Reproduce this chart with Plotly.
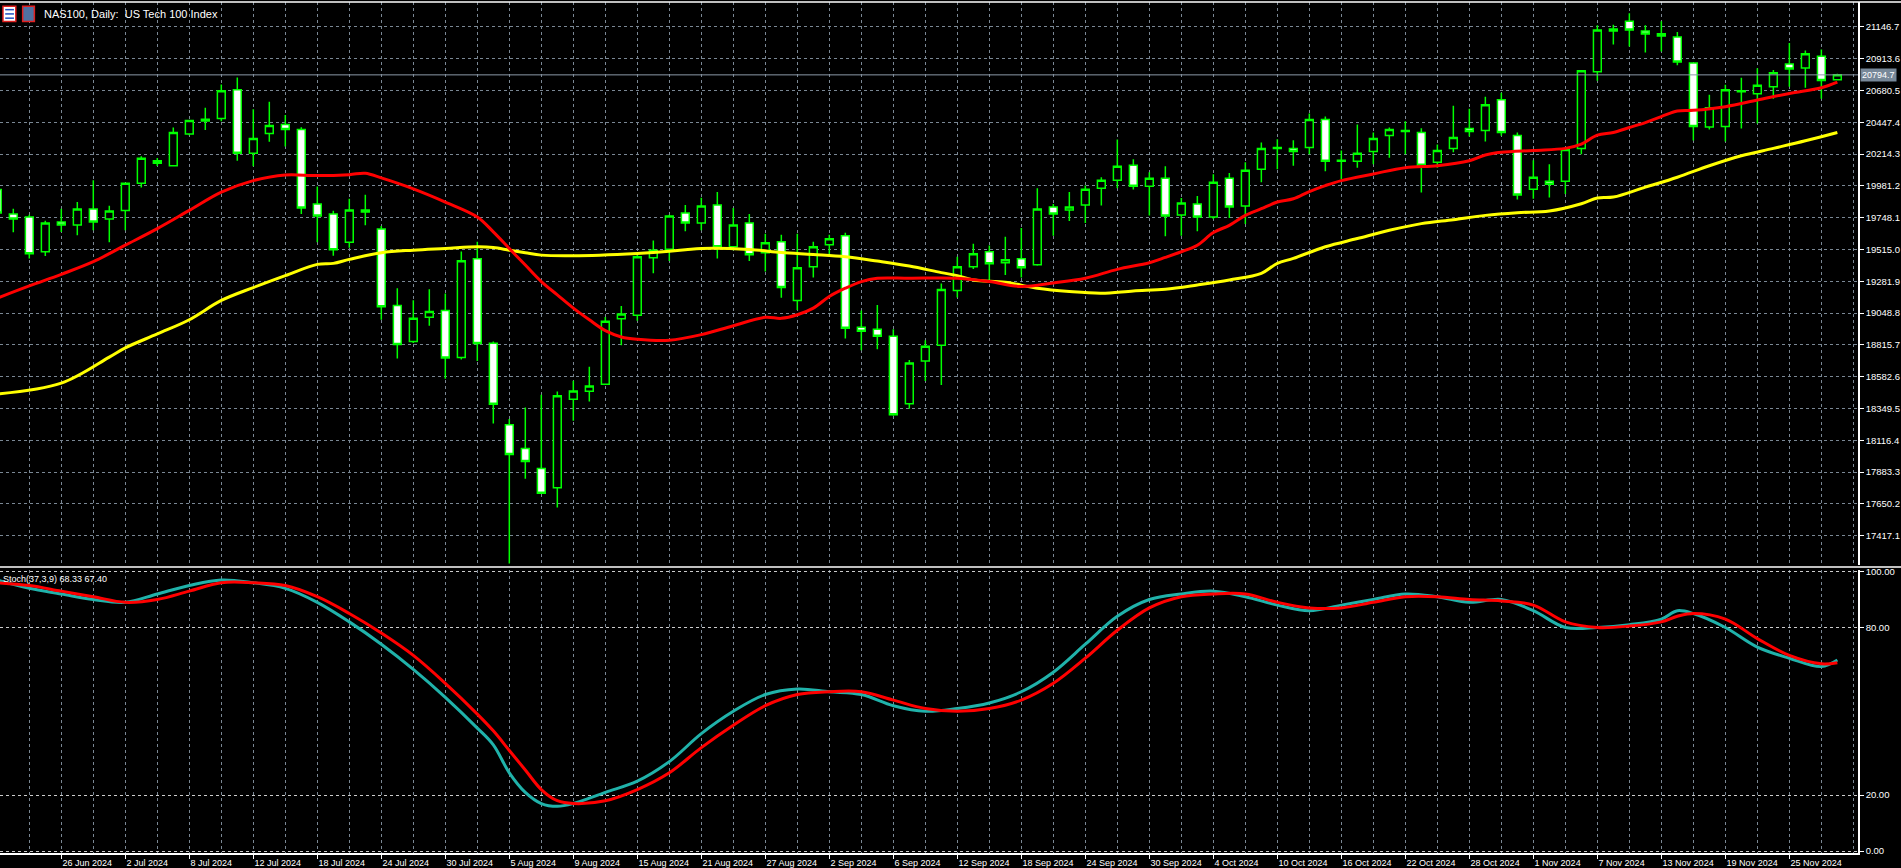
import plotly.graph_objects as go

dates = ["20 Jun 2024","26 Jun 2024","2 Jul 2024","8 Jul 2024","12 Jul 2024","18 Jul 2024","24 Jul 2024","30 Jul 2024",
         "5 Aug 2024","9 Aug 2024","15 Aug 2024","21 Aug 2024","27 Aug 2024","2 Sep 2024","6 Sep 2024","12 Sep 2024",
         "18 Sep 2024","24 Sep 2024","30 Sep 2024","4 Oct 2024","10 Oct 2024","16 Oct 2024","22 Oct 2024","28 Oct 2024",
         "1 Nov 2024","7 Nov 2024","13 Nov 2024","19 Nov 2024","25 Nov 2024"]
date_bars = [4 * i for i in range(len(dates))]

opens = [19954.2,19775.1,19753.2,19498.3,19716.8,19694.9,19811.5,19738.6,19801.3,20000.9,
         20165.5,20129.1,20362.1,20456.8,20474.3,20685.6,20219.4,20365.1,20430.6,20394.2,
         19847.9,19775.1,19568.2,19804.2,19665.8,19104.9,18839.8,19017.5,19068.5,18723.2,
         19447.3,18828.1,18230.8,18056.0,17910.3,17769.0,18417.3,18475.6,18526.6,19007.3,
         19032.1,19454.6,19517.2,19782.3,19709.5,19840.6,19534.7,19709.5,19491.0,19571.1,
         19141.3,19389.0,19549.3,19614.8,18944.7,18930.1,18879.1,18383.8,18697.0,18813.5,
         19214.2,19389.0,19498.3,19418.1,19447.3,19403.6,19826.0,19804.2,19840.6,19964.4,
         20022.7,20132.0,19979.0,20037.3,19767.8,19847.9,19753.2,20037.3,19833.3,20102.8,
         20255.8,20255.8,20263.1,20467.0,20161.1,20161.1,20233.9,20350.5,20379.6,20372.4,
         20153.8,20255.8,20401.5,20386.9,20612.7,20350.5,19957.2,20015.4,20015.4,20255.8,
         20816.7,21115.3,21188.2,21115.3,21095.6,21071.6,20882.2,20413.1,20416.0,20671.0,
         20656.4,20707.4,20874.9,20845.8,20930.3,20758.4]
highs = [19995.8,19813.7,19770.0,19726.3,19813.7,19862.5,20022.7,19835.5,20003.0,20197.5,
         20185.0,20408.8,20462.0,20554.4,20724.2,20775.1,20542.1,20598.1,20500.5,20411.0,
         19976.1,19799.1,19886.5,19915.6,19687.6,19230.9,19143.5,19223.7,19192.3,19500.4,
         19571.1,18839.8,18271.6,18356.9,18449.3,18473.4,18553.5,18655.5,19019.7,19099.8,
         19478.6,19580.6,19770.0,19840.6,19893.8,19935.3,19818.8,19775.1,19629.4,19622.1,
         19629.4,19571.1,19622.1,19636.6,19068.5,19107.1,18930.1,18704.3,18850.0,19265.2,
         19461.8,19556.5,19544.0,19607.5,19673.1,19964.4,19847.9,19935.3,19983.4,20044.6,
         20321.4,20175.7,20081.0,20124.7,19891.6,19906.1,20066.4,20075.9,20153.8,20299.5,
         20323.5,20316.2,20510.7,20488.9,20241.2,20430.6,20372.4,20408.8,20454.7,20403.7,
         20284.9,20569.0,20547.2,20634.6,20663.7,20372.4,20168.4,20139.3,20255.8,20831.2,
         21159.0,21161.2,21246.4,21159.0,21188.2,21108.0,20886.6,20649.1,20722.0,20773.0,
         20842.9,20831.2,21027.9,20974.0,20981.3,20802.1]
lows = [19740.8,19641.0,19449.5,19466.2,19643.9,19619.2,19655.6,19568.2,19655.6,19968.8,
        20127.0,20123.0,20352.7,20391.3,20454.7,20165.5,20124.7,20303.9,20270.4,19775.1,
        19568.2,19469.1,19527.4,19692.0,19000.0,18716.0,18830.3,18956.3,18568.1,18708.7,
        18697.0,18240.3,17213.3,17834.6,17725.0,17623.3,18260.0,18400.6,18522.0,18813.5,
        18992.8,19340.2,19429.8,19648.3,19655.6,19449.5,19509.9,19429.8,19352.6,19160.3,
        19070.7,19308.9,19469.1,18861.6,18777.1,18784.4,18296.4,18347.4,18551.3,18522.0,
        19163.2,19371.5,19287.0,19327.8,19308.9,19396.3,19614.8,19724.1,19709.5,19837.7,
        19964.4,19954.2,19764.8,19611.9,19614.8,19648.3,19738.6,19745.9,19702.2,20008.2,
        20102.8,20129.1,20212.1,20088.3,20030.0,20114.5,20139.3,20187.3,20212.1,19932.4,
        20114.5,20226.7,20343.2,20306.8,20347.6,19881.4,19886.5,19896.0,19920.7,20212.1,
        20751.1,21017.7,21003.1,20959.4,20966.7,20864.7,20314.1,20394.2,20306.8,20401.5,
        20437.9,20620.0,20707.4,20700.1,20620.0,20753.3]
closes = [19782.3,19738.6,19483.7,19709.5,19694.9,19811.5,19716.8,19796.9,20000.9,20183.0,
          20146.5,20372.4,20459.8,20469.2,20678.3,20219.4,20328.6,20423.3,20394.2,19818.8,
          19760.5,19512.8,19804.2,19789.6,19094.7,18817.9,19010.2,19061.2,18718.9,19432.7,
          18825.2,18380.9,18012.3,17961.3,17728.2,18442.1,18478.5,18514.9,18988.4,19041.6,
          19461.8,19509.9,19760.5,19709.5,19833.3,19534.7,19694.9,19476.4,19563.8,19236.0,
          19381.7,19534.7,19593.0,18937.4,18915.5,18879.1,18303.7,18682.5,18806.3,19221.5,
          19389.0,19483.7,19410.9,19440.0,19381.7,19811.5,19775.1,19826.0,19957.2,20022.7,
          20124.7,19979.0,20037.3,19760.5,19855.2,19753.2,20008.2,19826.0,20095.5,20255.8,
          20263.1,20233.9,20467.0,20161.1,20168.4,20219.4,20328.6,20394.2,20386.9,20132.0,
          20241.2,20335.9,20379.6,20576.3,20372.4,19913.4,20044.6,19993.6,20248.5,20824.0,
          21122.6,21129.9,21122.6,21093.5,21078.9,20889.5,20416.0,20554.4,20685.6,20678.3,
          20719.1,20809.4,20838.5,20950.0,20753.3,20794.7]

ma_fast_bar = [0,2,4,6,8,10,12,14,16,18,20,22,23,24,26,28,30,31,32,33,34,35,36,37,38,39,40,42,44,46,48,49,50,51,52,53,54,55,57,60,
               62,64,66,68,70,72,73,74,75,76,77,78,79,80,81,82,83,84,86,88,90,92,93,94,96,98,99,100,101,102,103,104,105,106,108,110,112,114,115]
ma_fast = [19158.1,19247.7,19332.9,19425.4,19546.4,19668.0,19801.3,19935.3,20019.8,20061.3,20056.2,20063.5,20073.7,20039.5,19959.3,19862.5,19753.2,19644.0,19522.3,19400.6,
           19279.7,19182.1,19085.3,18999.9,18919.8,18873.9,18857.2,18849.9,18890.7,18956.3,19017.5,19010.2,19036.4,19085.3,19170.5,19230.9,19279.7,19303.8,19303.8,19303.8,
           19279.7,19243.3,19269.6,19303.8,19369.3,19418.1,19456.7,19498.3,19546.4,19638.8,19692.0,19764.8,19813.7,19862.5,19886.5,19939.7,19983.4,20019.8,20068.6,20114.5,
           20129.1,20165.5,20207.0,20226.7,20241.2,20255.8,20287.1,20352.7,20372.4,20408.8,20445.2,20489.0,20529.7,20534.8,20561.7,20609.8,20658.6,20700.1,20740.9]

ma_slow_bar = [0,4,7,8,10,12,14,16,18,20,21,22,24,26,28,30,31,32,33,34,36,40,41,43,44,47,49,51,53,55,57,59,60,61,63,65,67,69,71,73,75,77,79,80,81,
               83,85,87,89,91,93,95,97,99,100,101,103,105,107,109,111,113,115]
ma_slow = [18455.9,18535.3,18726.1,18793.9,18895.9,19000.0,19141.3,19236.0,19323.4,19405.8,19413.0,19442.2,19491.0,19510.0,19522.3,19534.7,19529.6,19510.0,19491.0,19473.5,
           19469.1,19485.9,19493.2,19512.8,19522.3,19515.0,19493.2,19478.6,19461.8,19429.8,19393.4,19345.3,19323.4,19291.4,19274.7,19231.0,19206.9,19194.5,19211.3,19223.7,
           19255.0,19291.4,19340.2,19413.0,19449.5,19534.7,19595.1,19655.6,19704.4,19733.6,19764.8,19784.5,19796.9,19850.1,19891.6,19898.9,19971.7,20044.6,20128.8,20201.9,
           20255.8,20311.2,20372.4]

stoch_bar = [0,2,4,6,8,10,12,14,16,18,20,22,24,26,28,30,31,32,33,34,35,36,38,40,42,44,46,48,50,52,54,56,58,60,62,64,66,68,70,72,74,76,78,80,82,84,86,88,90,
             92,94,96,98,100,102,104,105,106,108,110,112,114,115]
stoch_main = [97,94,92,90,89,92,95,97,96,94,89,82,74,65,55,44,38,28,21,17,16,17,21,25,32,42,50,56,58,57,56,52,50,51,53,57,64,74,84,90,92,93,91,88,86,88,90,92,91,
              89,90,86,80,80,81,83,86,85,80,73,69,66,68.33]
stoch_signal = [96,95,93,91,89,90,93,96,96,95,91,85,78,70,60,49,43,36,29,22,18,17,18,22,28,37,45,52,56,57,57,54,51,50,51,54,60,69,79,87,91,92,92,89,87,87,89,91,91,
                90,89.5,88,82,80,80.5,82,84,85,83,76,70,67,67.4]

price_ticks = [21146.7,20913.6,20680.5,20447.4,20214.3,19981.2,19748.1,19515.0,19281.9,19048.8,
               18815.7,18582.6,18349.5,18116.4,17883.3,17650.2,17417.1]
stoch_ticks = [0, 20, 80, 100]
last_price = 20794.7

GRID = "#7a8794"
GREEN = "#00ff00"
FONT = "Liberation Sans"
n = len(opens)
xs = list(range(n))

fig = go.Figure()
fig.add_trace(go.Candlestick(
    x=xs, open=opens, high=highs, low=lows, close=closes,
    increasing=dict(line=dict(color=GREEN, width=1.5), fillcolor="black"),
    decreasing=dict(line=dict(color=GREEN, width=1.5), fillcolor="white"),
    whiskerwidth=0, xaxis="x", yaxis="y", showlegend=False))
fig.add_trace(go.Scatter(x=ma_slow_bar, y=ma_slow, mode="lines", line=dict(color="#ffff00", width=3, shape="spline"),
                         xaxis="x", yaxis="y", showlegend=False))
fig.add_trace(go.Scatter(x=ma_fast_bar, y=ma_fast, mode="lines", line=dict(color="#ff0000", width=3, shape="spline"),
                         xaxis="x", yaxis="y", showlegend=False))
fig.add_trace(go.Scatter(x=stoch_bar, y=stoch_main, mode="lines", line=dict(color="#20b2aa", width=3, shape="spline"),
                         xaxis="x2", yaxis="y2", showlegend=False))
fig.add_trace(go.Scatter(x=stoch_bar, y=stoch_signal, mode="lines", line=dict(color="#ff0000", width=3, shape="spline"),
                         xaxis="x2", yaxis="y2", showlegend=False))

xr = [0.169, 116.29]
grid = dict(showgrid=True, gridcolor=GRID, griddash="3px,3px", gridwidth=1)
fig.update_layout(
    width=1901, height=868, paper_bgcolor="black", plot_bgcolor="black",
    margin=dict(l=0, r=43, t=2, b=15, autoexpand=False),
    font=dict(family=FONT, color="white", size=9),
    xaxis=dict(domain=[0, 1], range=xr, anchor="y", tickvals=date_bars, showticklabels=False, ticks="",
               zeroline=False, rangeslider=dict(visible=False),
               minor=dict(dtick=2, tick0=0, showgrid=True, gridcolor=GRID, griddash="3px,3px"), **grid),
    yaxis=dict(domain=[0.339, 1], range=[17206, 21328.7], side="right", tickvals=price_ticks,
               ticktext=[f"{v:.1f}" for v in price_ticks], ticks="outside", ticklen=4, tickcolor="white",
               tickfont=dict(size=9.5), showline=True, linecolor="white", linewidth=1.5, zeroline=False, **grid),
    xaxis2=dict(domain=[0, 1], range=xr, anchor="y2", matches="x", tickvals=date_bars, ticktext=dates,
                ticks="outside", ticklen=4, tickcolor="white", ticklabelposition="outside right", tickangle=0,
                ticklabelstandoff=0,
                showline=True, linecolor="white", linewidth=1.5, zeroline=False,
                tickfont=dict(size=9, color="white"),
                minor=dict(dtick=2, tick0=0, showgrid=True, gridcolor=GRID, griddash="3px,3px"), **grid),
    yaxis2=dict(domain=[0, 0.333], range=[-0.7, 100.7], side="right", tickvals=stoch_ticks,
                ticktext=[f"{v:.2f}" for v in stoch_ticks], ticks="outside", ticklen=4, tickcolor="white",
                tickfont=dict(size=9.5), showline=True, linecolor="white", linewidth=1.5, zeroline=False,
                showgrid=True, gridcolor="#cccccc", griddash="3px,3px"),
)

fig.add_shape(type="line", xref="x", yref="y", x0=xr[0], x1=xr[1], y0=last_price, y1=last_price,
              line=dict(color="#8c9aa8", width=1))
fig.add_annotation(xref="paper", yref="y", x=1, y=last_price, xanchor="left", yanchor="middle", xshift=2,
                   text=f"{last_price:.1f}", showarrow=False, bgcolor="#778899", font=dict(color="white", size=9),
                   borderpad=1)
for yy in [0.336, 1.0]:
    fig.add_shape(type="line", xref="paper", yref="paper", x0=0, x1=1.03, y0=yy, y1=yy,
                  line=dict(color="white", width=1.5))
fig.add_shape(type="rect", xref="paper", yref="paper", x0=0.0016, x1=0.0085, y0=0.977, y1=0.995,
              line=dict(color="#e02020", width=1.5), fillcolor="white")
for k in range(3):
    yy = 0.981 + k * 0.005
    fig.add_shape(type="line", xref="paper", yref="paper", x0=0.0028, x1=0.0075, y0=yy, y1=yy,
                  line=dict(color="#2050c0", width=1.5))
fig.add_shape(type="rect", xref="paper", yref="paper", x0=0.0122, x1=0.0185, y0=0.977, y1=0.995,
              line=dict(color="#e02020", width=1.5), fillcolor="#5070a0")
fig.add_annotation(xref="paper", yref="paper", x=0.0225, y=0.986, xanchor="left", yanchor="middle",
                   text="NAS100, Daily:  US Tech 100 Index", showarrow=False, font=dict(size=11, color="white"))
fig.add_annotation(xref="paper", yref="paper", x=0.0005, y=0.330, xanchor="left", yanchor="top",
                   text="Stoch(37,3,9) 68.33 67.40", showarrow=False, font=dict(size=9, color="white"))

fig.write_html("out.html", config={"displayModeBar": False})
with open("out.html", encoding="utf-8") as f:
    html = f.read()
html = html.replace("<head>", "<head><style>html,body{margin:0;padding:0;overflow:hidden;background:#000;}</style>", 1)
with open("out.html", "w", encoding="utf-8") as f:
    f.write(html)
